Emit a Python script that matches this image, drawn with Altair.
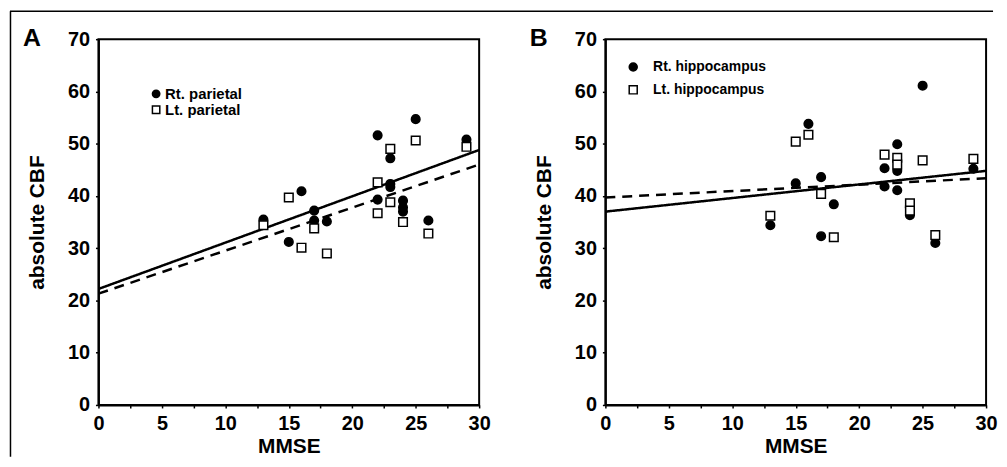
import altair as alt
import pandas as pd

FONT = "Liberation Sans"

# Panel A: parietal
a_rt_mmse = [13, 15, 16, 17, 17, 18, 22, 22, 23, 23, 23, 24, 24, 24, 25, 26, 29]
a_rt_cbf = [35.5, 31.2, 40.9, 37.2, 35.3, 35.1, 51.6, 39.3, 47.2, 42.3, 41.7, 39.1, 37.8, 37.0, 54.7, 35.3, 50.8]
a_lt_mmse = [13, 15, 16, 17, 18, 22, 22, 23, 23, 24, 25, 26, 29]
a_lt_cbf = [34.4, 39.7, 30.1, 33.8, 29.0, 42.6, 36.7, 49.0, 38.8, 35.0, 50.6, 32.8, 49.4]

# Panel B: hippocampus
b_rt_mmse = [13, 15, 16, 17, 17, 18, 22, 22, 23, 23, 23, 24, 24, 25, 26, 29]
b_rt_cbf = [34.4, 42.4, 53.8, 43.6, 32.3, 38.4, 45.3, 41.8, 49.9, 44.8, 41.1, 37.8, 36.3, 61.1, 31.0, 45.2]
b_lt_mmse = [13, 15, 16, 17, 18, 22, 23, 23, 24, 24, 25, 26, 29]
b_lt_cbf = [36.2, 50.4, 51.7, 40.4, 32.1, 47.9, 47.3, 46.0, 38.6, 37.2, 46.8, 32.5, 47.1]

# Regression lines (end points)
fit_mmse = [0, 30]
a_fit_rt = [22.2, 48.8]
a_fit_lt = [21.3, 46.0]
b_fit_rt = [37.0, 44.8]
b_fit_lt = [39.7, 43.4]

x_ticks = [i * 2.5 for i in range(13)]
y_ticks = list(range(0, 71, 10))

W, H = 383, 368
PT_SIZE = 75


def panel(letter, rt_label, lt_label, rt_x, rt_y, lt_x, lt_y, fit_rt, fit_lt,
          leg_sym_x, leg_txt_x, leg_y1, leg_y2, leg_font, leg_size, frame=False):
    pts = pd.DataFrame({
        "MMSE": rt_x + lt_x,
        "CBF": rt_y + lt_y,
        "series": [rt_label] * len(rt_x) + [lt_label] * len(lt_x),
    })
    lines = pd.DataFrame({
        "MMSE": fit_mmse + fit_mmse,
        "CBF": fit_rt + fit_lt,
        "series": [rt_label] * 2 + [lt_label] * 2,
    })
    xenc = alt.X("MMSE:Q", scale=alt.Scale(domain=[0, 30], nice=False, zero=False),
                 axis=alt.Axis(title="MMSE", values=x_ticks,
                               labelExpr="datum.value % 5 === 0 ? datum.label : ''",
                               labelFlush=False, labelOverlap=False,
                               titleY=48, titleBaseline="alphabetic"))
    yenc = alt.Y("CBF:Q", scale=alt.Scale(domain=[0, 70], nice=False),
                 axis=alt.Axis(title="absolute CBF", values=y_ticks,
                               labelFlush=False, labelOverlap=False,
                               titleX=-55, titleY=H / 2, titleAngle=270,
                               titleAlign="center", titleBaseline="alphabetic"))
    dom = [rt_label, lt_label]
    line_layer = alt.Chart(lines).mark_line(color="black", strokeWidth=2.5).encode(
        x=xenc, y=yenc,
        strokeDash=alt.StrokeDash("series:N", scale=alt.Scale(domain=dom, range=[[1, 0], [10, 7]]),
                                  legend=None),
    )
    point_layer = alt.Chart(pts).mark_point(filled=True, stroke="black", strokeWidth=1.5,
                                             size=PT_SIZE, opacity=1).encode(
        x=xenc, y=yenc,
        shape=alt.Shape("series:N", scale=alt.Scale(domain=dom, range=["circle", "square"]), legend=None),
        fill=alt.Fill("series:N", scale=alt.Scale(domain=dom, range=["black", "white"]), legend=None),
    )
    letter_layer = alt.Chart(pd.DataFrame({"t": [letter]})).mark_text(
        font=FONT, fontSize=25, fontWeight="bold", color="black", align="left",
        baseline="alphabetic").encode(text="t:N", x=alt.value(-76), y=alt.value(7))
    layers = [line_layer, point_layer, letter_layer]
    # legend entries
    for lab, shp, fil, ly in [(rt_label, "circle", "black", leg_y1), (lt_label, "square", "white", leg_y2)]:
        d = pd.DataFrame({"label": [lab]})
        layers.append(alt.Chart(d).mark_point(shape=shp, filled=True, fill=fil, stroke="black",
                                              strokeWidth=1.5, size=leg_size, opacity=1).encode(
            x=alt.value(leg_sym_x), y=alt.value(ly)))
        layers.append(alt.Chart(d).mark_text(font=FONT, fontSize=leg_font, fontWeight="bold",
                                             color="black", align="left", baseline="middle").encode(
            text="label:N", x=alt.value(leg_txt_x), y=alt.value(ly)))
    if frame:
        one = pd.DataFrame({"a": [0]})
        vline = alt.Chart(one).mark_rule(color="black", strokeWidth=1.5).encode(
            x=alt.value(-88.5), y=alt.value(-28), y2=alt.value(420))
        hline = alt.Chart(one).mark_rule(color="black", strokeWidth=1.5).encode(
            x=alt.value(-89), x2=alt.value(900), y=alt.value(-28))
        layers += [vline, hline]
    return alt.layer(*layers).properties(width=W, height=H)


pa = panel("A", "Rt. parietal", "Lt. parietal", a_rt_mmse, a_rt_cbf, a_lt_mmse, a_lt_cbf,
           a_fit_rt, a_fit_lt, 58, 67, 55, 71, 15, 55, frame=True)
pb = panel("B", "Rt. hippocampus", "Lt. hippocampus", b_rt_mmse, b_rt_cbf, b_lt_mmse, b_lt_cbf,
           b_fit_rt, b_fit_lt, 28, 48, 28, 51, 14, 65)

chart = alt.hconcat(pa, pb, spacing=127, bounds="flush", padding=0).resolve_scale(
    x="independent", y="independent", shape="independent", fill="independent",
    strokeDash="independent").configure_view(
    stroke="black", strokeWidth=2).configure_axis(
    grid=False, domainColor="black", domainWidth=2, tickColor="black", tickWidth=1.5,
    tickSize=3, labelPadding=6, labelFont=FONT, labelFontSize=20, labelFontWeight="bold",
    labelColor="black", titleFont=FONT, titleFontSize=21, titleFontWeight="bold",
    titleColor="black")

chart.save("out.html", embed_options={"renderer": "svg", "actions": False})
